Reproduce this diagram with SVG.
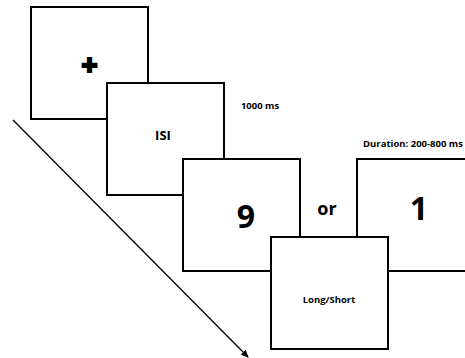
<svg xmlns="http://www.w3.org/2000/svg" width="465" height="358" viewBox="0 0 465 358">
<style>
.box{fill:#fff;stroke:#000;stroke-width:2}
.t{font-family:"Open Sans","Liberation Sans",sans-serif;font-weight:bold;fill:#000;text-anchor:middle}
</style>
<defs>
<marker id="ah" markerWidth="8" markerHeight="8" refX="7" refY="4" orient="auto" markerUnits="userSpaceOnUse">
<path d="M0,0.5 L8,4 L0,7.5 Z" fill="#000"/>
</marker>
</defs>
<rect width="465" height="358" fill="#fff"/>
<g id="connectors">
<line x1="13" y1="120" x2="248" y2="357" stroke="#000" stroke-width="1.3" marker-end="url(#ah)"/>
</g>
<g id="fixation">
<rect class="box" x="31" y="7" width="117" height="112"/>
<text class="t" x="89.5" y="75" font-size="28" stroke="#000" stroke-width="2.2" stroke-linejoin="miter">+</text>
</g>
<g id="isi">
<rect class="box" x="107" y="83" width="117" height="112"/>
<text class="t" x="163" y="140" font-size="13">ISI</text>
<text class="t" x="260" y="109" font-size="9.5">1000 ms</text>
</g>
<g id="nine">
<rect class="box" x="183" y="159" width="117" height="112"/>
<text class="t" x="246" y="228" font-size="32">9</text>
</g>
<g id="or">
<text class="t" x="327" y="215" font-size="18">or</text>
</g>
<g id="one">
<rect class="box" x="357" y="159" width="120" height="112"/>
<text class="t" x="419" y="220" font-size="32">1</text>
<text class="t" x="413" y="147" font-size="9.5">Duration: 200-800 ms</text>
</g>
<g id="response">
<rect class="box" x="271" y="237" width="117" height="112"/>
<text class="t" x="329" y="303" font-size="9.5">Long/Short</text>
</g>
</svg>
